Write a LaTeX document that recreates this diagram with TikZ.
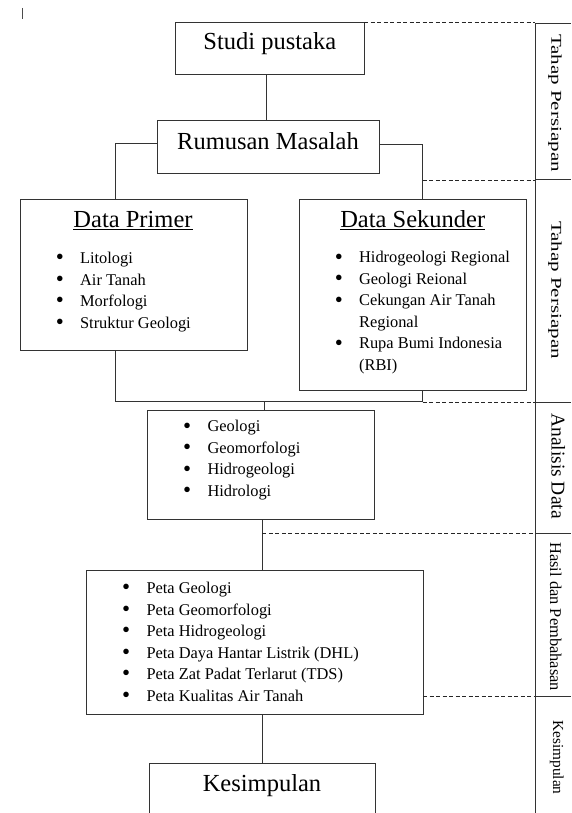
\documentclass[tikz,border=0pt]{standalone}
\usepackage{fontspec}
\setmainfont{Liberation Serif}
\usepackage{graphicx}
\usepackage{tikz}
\usetikzlibrary{calc}
\tikzset{
    kotak/.style={draw=black!80, line width=1pt, rectangle, anchor=north west, inner sep=0pt, outer sep=0pt},
    judul/.style={anchor=base, inner sep=0pt, font=\fontsize{24.5}{29}\selectfont},
    daftar/.style={anchor=north west, inner sep=0pt, align=left, font=\fontsize{16.4}{21.5}\selectfont},
    garis/.style={draw=black!80, line width=1pt},
    putus/.style={draw=black!85, line width=0.9pt, dash pattern=on 4pt off 2.5pt},
    tahap/.style={rotate=-90, inner sep=0pt}
}
\newcommand{\butir}[1]{\strut\makebox[23.5pt][l]{\hspace*{-0.8pt}\raisebox{-1.3pt}{\scalebox{1.4}{\textbullet}}}#1}
\newcommand{\lanjut}[1]{\strut\hspace*{23.5pt}#1}

\begin{document}
\begin{tikzpicture}[x=1pt, y=-1pt]
    \useasboundingbox (0,0) rectangle (571,813);
    \clip (0,0) rectangle (571,813);
    \draw[black!70, line width=0.8pt] (22.7,8) -- (22.7,19);

    \node[kotak, minimum width=188.3pt, minimum height=52.3pt] (studi) at (175.7,22.7) {};
    \node[kotak, minimum width=222pt, minimum height=53pt] (rumusan) at (157.3,121) {};
    \node[kotak, minimum width=226.3pt, minimum height=150.7pt] (primer) at (20.7,199.3) {};
    \node[kotak, minimum width=226.6pt, minimum height=190.7pt] (sekunder) at (299.7,199.3) {};
    \node[kotak, minimum width=226.6pt, minimum height=109pt] (analisis) at (147.7,410) {};
    \node[kotak, minimum width=336.3pt, minimum height=143.6pt] (hasil) at (86.7,570.7) {};
    \node[kotak, minimum width=226.7pt, minimum height=80pt] (kesimpulan) at (149,763.3) {};

    \node[judul] (studiT) at (269.8,50) {Studi pustaka};
    \node[judul] (rumusanT) at (268,150) {Rumusan Masalah};
    \node[judul] (primerT) at (133,227.5) {\underline{Data Primer}};
    \node[judul] (sekunderT) at (412.7,227.5) {\underline{Data Sekunder}};
    \node[judul] (kesimpulanT) at (262,791.5) {Kesimpulan};

    \node[daftar] (primerL) at (56.4,248.3) {\butir{Litologi}\\ \butir{Air Tanah}\\
        \butir{Morfologi}\\ \butir{Struktur Geologi}};
    \node[daftar] (sekunderL) at (335.4,247.7) {\butir{Hidrogeologi Regional}\\
        \butir{Geologi Reional}\\ \butir{Cekungan Air Tanah}\\ \lanjut{Regional}\\
        \butir{Rupa Bumi Indonesia}\\ \lanjut{(RBI)}};
    \node[daftar] (analisisL) at (183.8,416.7) {\butir{Geologi}\\ \butir{Geomorfologi}\\
        \butir{Hidrogeologi}\\ \butir{Hidrologi}};
    \node[daftar] (hasilL) at (122.8,578.3) {\butir{Peta Geologi}\\ \butir{Peta Geomorfologi}\\
        \butir{Peta Hidrogeologi}\\ \butir{Peta Daya Hantar Listrik (DHL)}\\
        \butir{Peta Zat Padat Terlarut (TDS)}\\ \butir{Peta Kualitas Air Tanah}};

    \draw[garis] ([xshift=-3.2pt]studi.south) -- ([xshift=-3.2pt]studi.south |- rumusan.north);
    \draw[garis] ([yshift=4.2pt]rumusan.west) -| ([xshift=-18.85pt]primer.north);
    \draw[garis] ([yshift=2.5pt]rumusan.east) -| ([xshift=9.7pt]sekunder.north);
    \coordinate (gabung) at (264.3,401.7);
    \draw[garis] ([xshift=-18.85pt]primer.south) |- (gabung) -| ([xshift=9.7pt]sekunder.south);
    \draw[garis] (gabung) -- (gabung |- analisis.north);
    \draw[garis] ([xshift=1.3pt]analisis.south) -- ([xshift=1.3pt]analisis.south |- hasil.north);
    \draw[garis] (kesimpulan.north |- hasil.south) -- (kesimpulan.north);

    \coordinate (kolom) at (535,24);
    \coordinate (batas1) at (535,180);
    \coordinate (batas2) at (535,402);
    \coordinate (batas3) at (535,533.3);
    \coordinate (batas4) at (535,696.5);
    \draw[garis] (kolom) -- (535,813);
    \foreach \b in {kolom,batas1,batas2,batas3,batas4}
        \draw[garis] (\b) -- ++(36,0);
    \draw[putus] (studi.north east) -- (studi.north east -| kolom);
    \draw[putus] ([xshift=9.7pt]sekunder.north |- batas1) -- (batas1);
    \draw[putus] ([xshift=9.7pt]sekunder.south |- batas2) -- (batas2);
    \draw[putus] ([xshift=1.3pt]analisis.south |- batas3) -- (batas3);
    \draw[putus] (hasil.east |- batas4) -- (batas4);

    \node[tahap, font=\fontsize{15}{18}\selectfont] (tahap1) at (555,103) {\scalebox{1.4}[1]{Tahap Persiapan}};
    \node[tahap, font=\fontsize{15}{18}\selectfont] (tahap2) at (555,290) {\scalebox{1.4}[1]{Tahap Persiapan}};
    \node[tahap, font=\fontsize{19.5}{23}\selectfont] (tahap3) at (558.3,466) {Analisis Data};
    \node[tahap, font=\fontsize{16.4}{20}\selectfont] (tahap4) at (555.8,616.7) {Hasil dan Pembahasan};
    \node[tahap, font=\fontsize{15.3}{18}\selectfont] (tahap5) at (556.7,757.5) {Kesimpulan};
\end{tikzpicture}
\end{document}
